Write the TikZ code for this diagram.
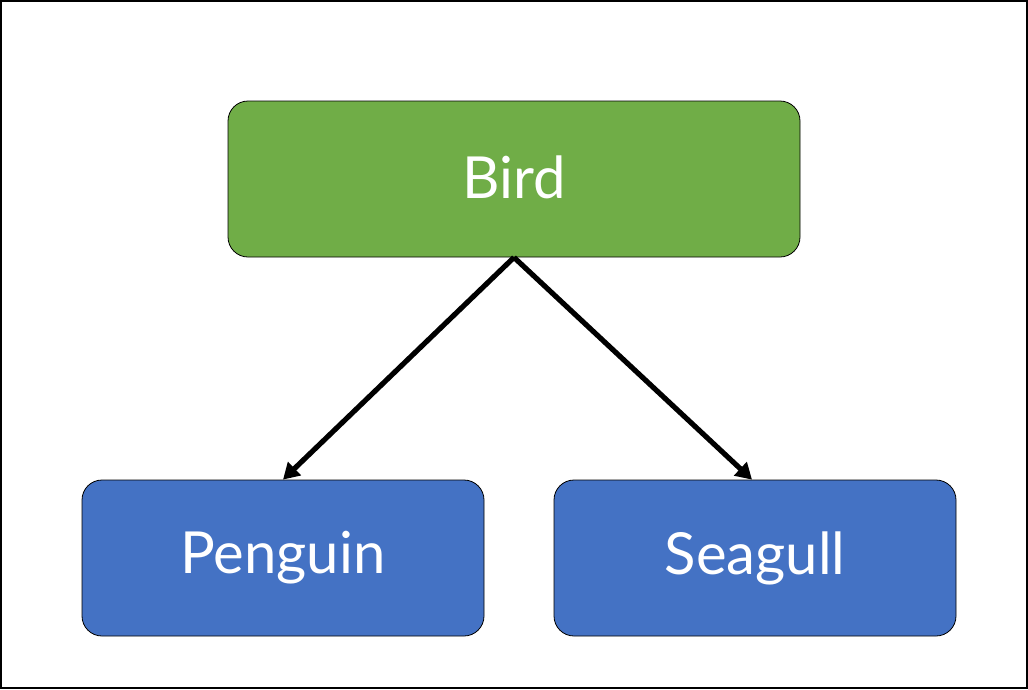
\documentclass[tikz,border=0pt]{standalone}
\usepackage{fontspec}
\setmainfont{Lato}
\usetikzlibrary{arrows.meta}
\definecolor{birdgreen}{HTML}{70AD47}
\definecolor{boxblue}{HTML}{4472C4}
\newcommand{\boxtext}[1]{\raisebox{4pt}{#1}}
\begin{document}
\begin{tikzpicture}[x=1pt,y=-1pt,
  box/.style={draw=black,line width=0.8pt,rounded corners=20pt,minimum height=156pt,
    text=white,font=\fontsize{58}{62}\selectfont,inner sep=0pt},
  link/.style={line width=5.2pt,-{Triangle[length=16pt,width=18pt]}}]
\draw[line width=2pt,fill=white] (1,1) rectangle (1027,688);
\node[box,fill=birdgreen,minimum width=572pt] (bird) at (514,179) {\boxtext{Bird}};
\node[box,fill=boxblue,minimum width=402pt] (pen) at (283,558) {\boxtext{Penguin}};
\node[box,fill=boxblue,minimum width=402pt] (sea) at (755,558) {\boxtext{Seagull}};
\draw[link] (bird.south) -- (pen.north);
\draw[link] (bird.south) -- ([xshift=-3pt]sea.north);
\end{tikzpicture}
\end{document}
